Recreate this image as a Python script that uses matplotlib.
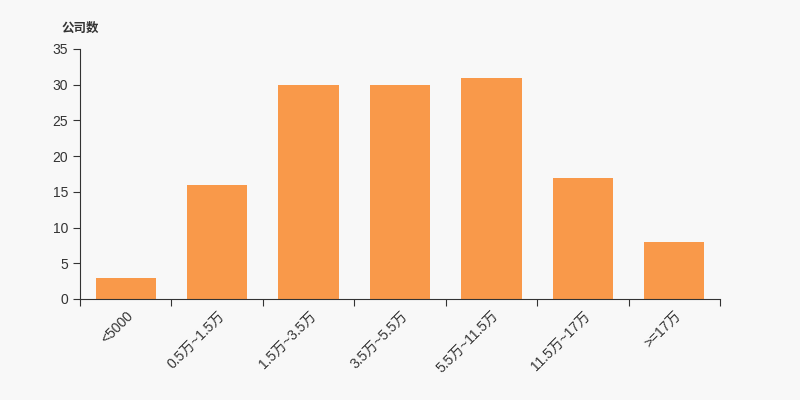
import numpy as np
import matplotlib.pyplot as plt

plt.rcParams['font.family'] = ['Liberation Sans', 'Noto Sans CJK SC', 'DejaVu Sans']

categories = ['<5000', '0.5万~1.5万', '1.5万~3.5万', '3.5万~5.5万',
              '5.5万~11.5万', '11.5万~17万', '>=17万']
counts = [3, 16, 30, 30, 31, 17, 8]

fig = plt.figure(figsize=(8, 4), dpi=100, facecolor='#f8f8f8')
ax = fig.add_axes([0.1, 0.2525, 0.8, 0.625])
ax.set_facecolor('#f8f8f8')

x = np.arange(len(categories))
ax.bar(x, counts, width=0.66, color='#f9994a')

ax.set_xlim(-0.5, len(categories) - 0.5)
ax.set_ylim(0, 35)
ax.set_yticks(range(0, 36, 5))
ax.set_xticks(np.arange(-0.5, len(categories), 1))
ax.set_xticklabels([])
ax.set_xticks(x, minor=True)
ax.set_xticklabels(categories, minor=True, rotation=45, ha='right',
                   va='top', rotation_mode='anchor')
ax.tick_params(axis='x', which='minor', length=0, pad=7, labelsize=10, labelcolor='#333333')
ax.tick_params(axis='x', which='major', length=5, color='#333333')
ax.tick_params(axis='y', length=5, labelsize=10, labelcolor='#333333', color='#333333')

for s in ['top', 'right']:
    ax.spines[s].set_visible(False)
for s in ['left', 'bottom']:
    ax.spines[s].set_color('#333333')

fig.text(0.0775, 0.93, '公司数', fontsize=9, fontweight='bold', color='#333333', va='center',
         family=['Noto Sans CJK SC', 'DejaVu Sans'])

fig.savefig('out.png', dpi=100, facecolor=fig.get_facecolor())
